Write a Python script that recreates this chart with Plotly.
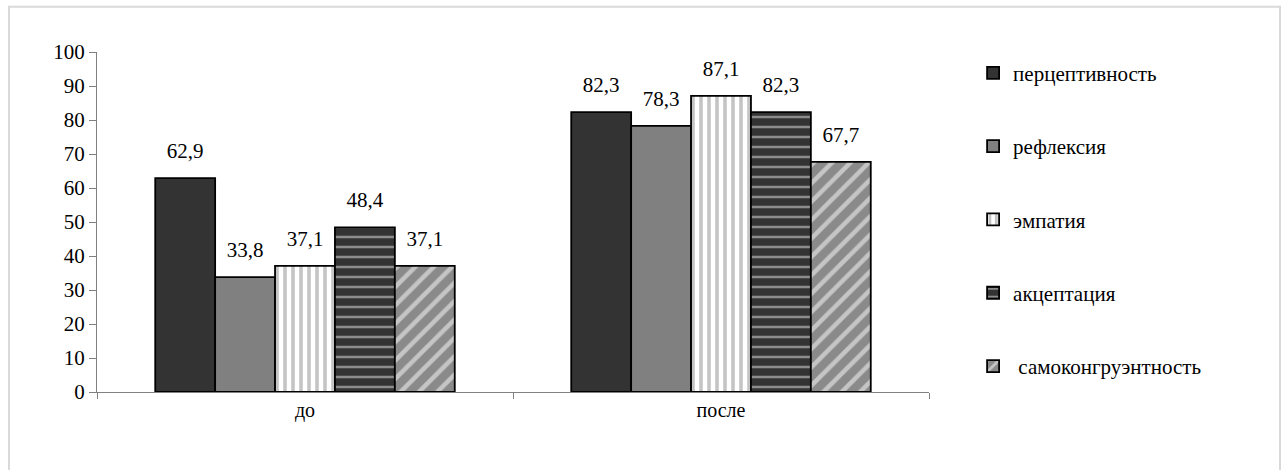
import plotly.graph_objects as go

categories = ["до", "после"]
series_names = ["перцептивность", "рефлексия", "эмпатия", "акцептация", "самоконгруэнтность"]
perc = [62.9, 82.3]
refl = [33.8, 78.3]
emp = [37.1, 87.1]
acc = [48.4, 82.3]
self_c = [37.1, 67.7]
y_ticks = [0, 10, 20, 30, 40, 50, 60, 70, 80, 90, 100]

series_values = [perc, refl, emp, acc, self_c]
styles = [
    dict(color="#333333", pattern=None),
    dict(color="#808080", pattern=None),
    dict(color="#ffffff", pattern=dict(shape="|", fgcolor="#8a8a8a", bgcolor="#ffffff", size=8, solidity=0.45)),
    dict(color="#333333", pattern=dict(shape="-", fgcolor="#e6e6e6", bgcolor="#333333", size=10, solidity=0.25)),
    dict(color="#8a8a8a", pattern=dict(shape="/", fgcolor="#ffffff", bgcolor="#8a8a8a", size=13, solidity=0.35)),
]

FONT = "Liberation Serif"

def fmt(v):
    return f"{v:.1f}".replace(".", ",")

fig = go.Figure()
for i, (name, vals) in enumerate(zip(series_names, series_values)):
    st = styles[i]
    marker = dict(color=st["color"], line=dict(color="black", width=1.8))
    if st["pattern"]:
        marker["pattern"] = st["pattern"]
    fig.add_trace(go.Bar(
        name=(" " + name) if i == 4 else name,
        x=categories, y=vals,
        legendgroup=f"g{i}",
        offsetgroup=f"o{i}",
        marker=marker,
    ))
for i, vals in enumerate(series_values):
    fig.add_trace(go.Scatter(
        x=categories, y=vals, mode="markers+text",
        text=[fmt(v) for v in vals], textposition="top center",
        textfont=dict(size=21),
        marker=dict(size=22, opacity=0),
        offsetgroup=f"o{i}", showlegend=False, hoverinfo="skip",
        cliponaxis=False,
    ))

fig.update_layout(
    width=1282, height=470,
    margin=dict(l=97, r=353, t=52, b=78),
    paper_bgcolor="white", plot_bgcolor="white",
    font=dict(family=FONT, size=20, color="black"),
    barmode="group", bargap=0.28, bargroupgap=0,
    scattermode="group", scattergap=0.28,
    showlegend=True,
    legend=dict(x=1.053, y=0.998, xanchor="left", yanchor="top",
                traceorder="grouped", tracegroupgap=43,
                font=dict(size=21), itemwidth=30),
    xaxis=dict(type="category", showline=True, linecolor="#808080", linewidth=1,
               ticks="outside", tickson="boundaries", ticklen=6, tickcolor="#808080",
               tickfont=dict(size=20), showgrid=False),
    yaxis=dict(range=[0, 100], tickvals=y_ticks, showline=True, linecolor="#808080",
               linewidth=1, ticks="outside", ticklen=7, tickcolor="#808080",
               tickfont=dict(size=21), showgrid=False, zeroline=False),
    shapes=[dict(type="rect", xref="paper", yref="paper",
                 x0=-0.1058, x1=1.4219, y0=-0.3, y1=1.133,
                 line=dict(color="#d9d9d9", width=2), layer="below")],
)

fig.write_html("out.html", config={"displayModeBar": False},
               post_script="document.body.style.margin='0';")
